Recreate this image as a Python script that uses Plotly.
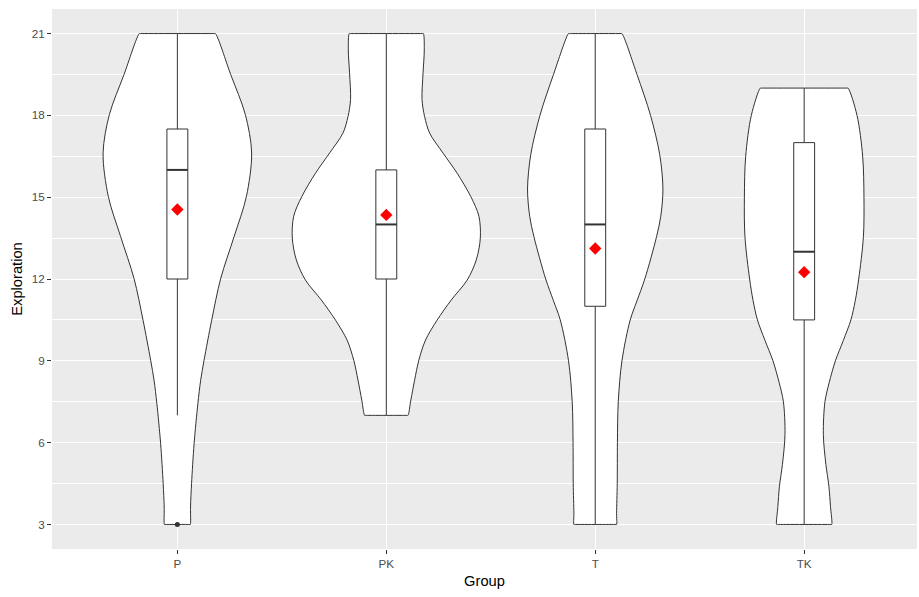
import plotly.graph_objects as go

# ---------------- data ----------------
groups = ["P", "PK", "T", "TK"]

# violin outlines: y levels and relative density (max = 1)
P_y = [3, 3.64, 4.5, 5.96, 7.43, 8.29, 9.02, 10.49, 12.02, 13.55, 15.02, 16.62, 18.03, 19.5, 21]
P_d = [0.138, 0.140, 0.151, 0.178, 0.218, 0.248, 0.284, 0.365, 0.461, 0.603, 0.734, 0.790, 0.723, 0.567, 0.404]

PK_y = [7, 7.56, 8.29, 9.02, 9.76, 10.49, 11.23, 11.96, 12.7, 13.5, 14.3, 15.02, 15.88, 16.62, 17.35,
        17.96, 18.58, 19.56, 20.4, 21]
PK_d = [0.231, 0.261, 0.301, 0.346, 0.417, 0.540, 0.691, 0.860, 0.957, 1.000, 0.985, 0.899, 0.753, 0.603,
        0.461, 0.407, 0.380, 0.391, 0.404, 0.394]

T_y = [3, 3.4, 4.5, 6, 7.5, 9, 10.5, 11.2, 12, 13.55, 14.3, 15.3, 16.56, 18, 19.5, 21]
T_d = [0.227, 0.227, 0.234, 0.236, 0.245, 0.284, 0.372, 0.444, 0.527, 0.652, 0.697, 0.720, 0.686, 0.588,
       0.444, 0.284]

TK_y = [3, 3.65, 4.4, 5.2, 6.3, 7.5, 8.2, 9, 9.75, 10.5, 11.2, 12, 13.55, 15, 16.5, 18, 19]
TK_d = [0.293, 0.280, 0.263, 0.231, 0.204, 0.221, 0.266, 0.332, 0.417, 0.497, 0.543, 0.580, 0.630, 0.636,
        0.622, 0.562, 0.466]

# box statistics
box_low = [7, 7, 3, 3]
box_q1 = [12, 12, 11, 10.5]
box_med = [16, 14, 14, 13]
box_q3 = [17.5, 16, 17.5, 17]
box_high = [21, 21, 21, 19]
means = [14.55, 14.35, 13.12, 12.25]

outlier_group = ["P"]
outlier_val = [3]

violin_ys = [P_y, PK_y, T_y, TK_y]
violin_ds = [P_d, PK_d, T_d, TK_d]

# ---------------- figure ----------------
VW = 0.45     # half of violin width (ggplot width 0.9)
BH = 0.05     # half of box width (ggplot width 0.1)
LINE = "#333333"
K = 0.97      # helper points near the flat ends keep the corners crisp

fig = go.Figure()
pos = {g: i + 1 for i, g in enumerate(groups)}

for g, ys, ds in zip(groups, violin_ys, violin_ds):
    c = pos[g]
    xs, yy = [], []
    for y, d in zip(ys, ds):
        xs.append(c + d * VW); yy.append(y)
    wt = ds[-1] * VW
    xs += [c + K * wt, c - K * wt]; yy += [ys[-1], ys[-1]]
    for y, d in zip(reversed(ys), reversed(ds)):
        xs.append(c - d * VW); yy.append(y)
    wb = ds[0] * VW
    xs += [c - K * wb, c + K * wb, c + wb]; yy += [ys[0], ys[0], ys[0]]
    fig.add_trace(go.Scatter(x=xs, y=yy, mode="lines", fill="toself", fillcolor="white",
                             line=dict(color=LINE, width=1, shape="spline", smoothing=0.9),
                             hoverinfo="skip", showlegend=False))

for i, g in enumerate(groups):
    c = pos[g]
    fig.add_trace(go.Scatter(x=[c, c, None, c, c],
                             y=[box_q3[i], box_high[i], None, box_q1[i], box_low[i]],
                             mode="lines", line=dict(color=LINE, width=1),
                             hoverinfo="skip", showlegend=False))
    fig.add_trace(go.Scatter(x=[c - BH, c + BH, c + BH, c - BH, c - BH],
                             y=[box_q1[i], box_q1[i], box_q3[i], box_q3[i], box_q1[i]],
                             mode="lines", fill="toself", fillcolor="white",
                             line=dict(color=LINE, width=1),
                             hoverinfo="skip", showlegend=False))
    fig.add_trace(go.Scatter(x=[c - BH, c + BH], y=[box_med[i], box_med[i]],
                             mode="lines", line=dict(color=LINE, width=2),
                             hoverinfo="skip", showlegend=False))

fig.add_trace(go.Scatter(x=[pos[g] for g in outlier_group], y=outlier_val, mode="markers",
                         marker=dict(color=LINE, size=5), showlegend=False))

fig.add_trace(go.Scatter(x=[pos[g] for g in groups], y=means, mode="markers",
                         marker=dict(color="red", symbol="diamond", size=9.5, line=dict(width=0)),
                         showlegend=False))

tick_font = dict(family="Liberation Sans, Arial, sans-serif", size=11.7, color="#4D4D4D")
title_font = dict(family="Liberation Sans, Arial, sans-serif", size=14.7, color="black")

fig.update_layout(
    width=919, height=597,
    margin=dict(l=52, r=2, t=9, b=48),
    paper_bgcolor="white", plot_bgcolor="#EBEBEB",
    showlegend=False,
    xaxis=dict(range=[0.4, 4.54], tickmode="array", tickvals=[1, 2, 3, 4], ticktext=groups,
               showgrid=True, gridcolor="white", gridwidth=1.4, zeroline=False,
               ticks="outside", ticklen=4, tickcolor=LINE, tickwidth=1,
               tickfont=tick_font, showline=False,
               title=dict(text="Group", font=title_font, standoff=6)),
    yaxis=dict(range=[2.1, 21.9], tickmode="array", tickvals=[3, 6, 9, 12, 15, 18, 21],
               showgrid=True, gridcolor="white", gridwidth=1.4, zeroline=False,
               ticks="outside", ticklen=4, tickcolor=LINE, tickwidth=1,
               tickfont=tick_font, showline=False,
               minor=dict(tickmode="array", tickvals=[4.5, 7.5, 10.5, 13.5, 16.5, 19.5],
                          showgrid=True, gridcolor="white", gridwidth=0.7, ticks=""),
               title=dict(text="Exploration", font=title_font, standoff=5)),
)

fig.write_html("out.html")
